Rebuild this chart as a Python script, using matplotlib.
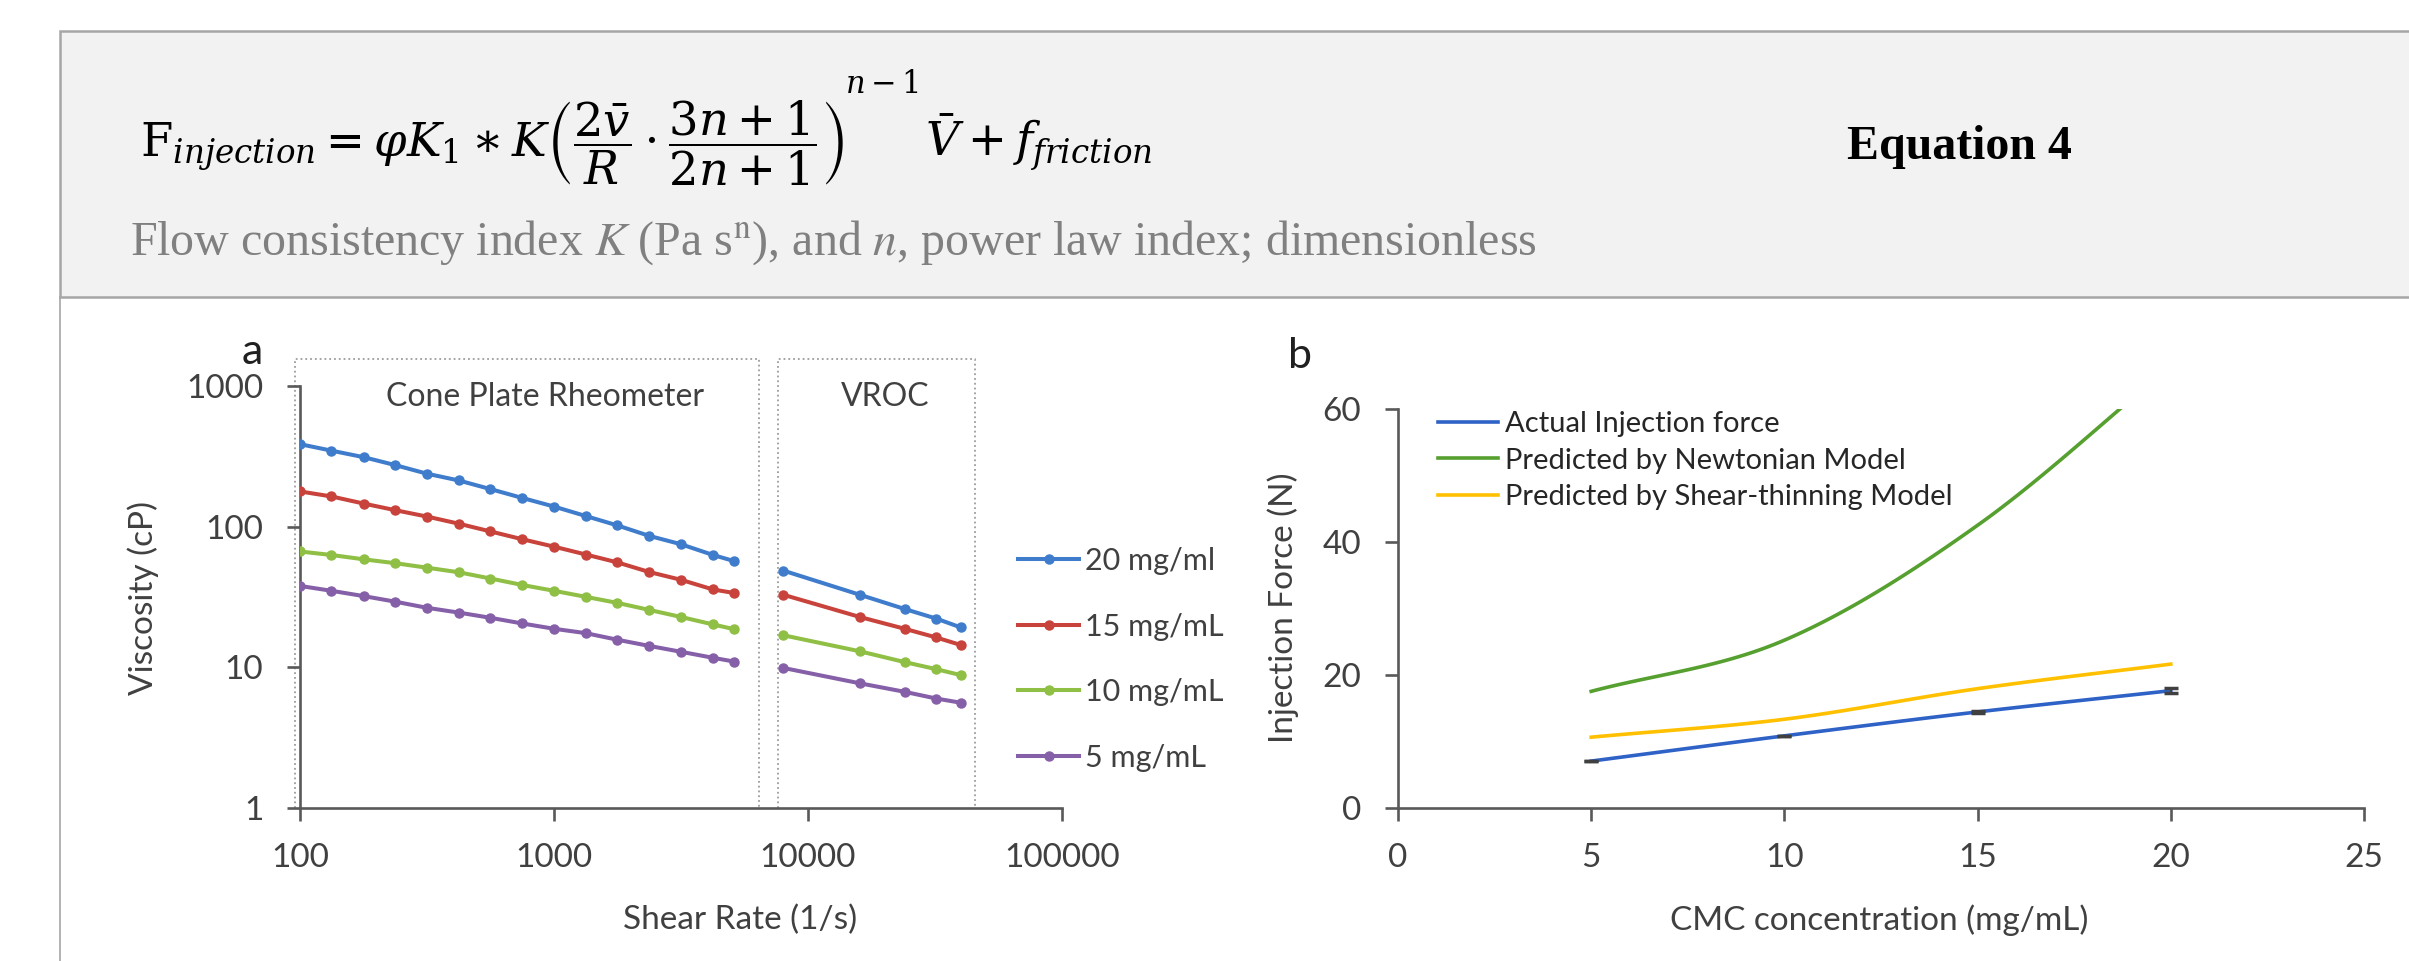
import numpy as np
import matplotlib
matplotlib.use("Agg")
import matplotlib.pyplot as plt
from matplotlib.patches import Rectangle
from matplotlib.lines import Line2D
from matplotlib.ticker import NullLocator

W, H = 2409, 961

# panel a: viscosity (cP) vs shear rate (1/s)
cone_rate = [100, 133, 178, 237, 316, 422, 562, 750, 1000, 1334, 1778, 2371, 3162, 4217, 5100]
vroc_rate = [8000, 16000, 24000, 32000, 40000]
visc_labels = ["20 mg/ml", "15 mg/mL", "10 mg/mL", "5 mg/mL"]
cone_visc = [
    [386, 347, 312, 274, 238, 213, 185, 160, 139, 119, 102, 86, 75, 63, 57],
    [178, 164, 146, 131, 118, 105, 92.5, 81.4, 72.1, 63.4, 55.7, 47.6, 41.9, 35.8, 33.8],
    [66.6, 62.9, 58.6, 55.0, 51.1, 47.4, 42.8, 38.5, 35.0, 31.7, 28.7, 25.6, 22.8, 20.2, 18.7],
    [37.9, 35.0, 32.1, 29.3, 26.5, 24.5, 22.5, 20.5, 18.8, 17.5, 15.7, 14.2, 12.9, 11.7, 11.0],
]
vroc_visc = [
    [48.7, 32.8, 26.0, 22.2, 19.2],
    [32.8, 22.8, 18.8, 16.3, 14.4],
    [16.9, 13.0, 10.9, 9.7, 8.8],
    [9.9, 7.7, 6.7, 6.0, 5.6],
]
visc_colors = ["#3f7ccc", "#c8433c", "#8fbf45", "#8560a8"]
cone_range = [95.6, 6400]
vroc_range = [7600, 45400]
box_top = 1560

# panel b: injection force (N) vs CMC concentration (mg/mL)
cmc = [5, 10, 15, 20]
force_labels = ["Actual Injection force", "Predicted by Newtonian Model",
                "Predicted by Shear-thinning Model"]
force_actual = [7.0, 10.8, 14.4, 17.6]
force_actual_err = [0.0, 0.0, 0.2, 0.4]
force_newton = [17.5, 25.2, 42.5, 66.5]
force_shear = [10.6, 13.3, 17.9, 21.6]
force_colors = ["#2f62c6", "#56a030", "#ffc000"]


def fx(px):
    return px / W


def fy(py):
    return 1 - py / H


def smooth(x, y, n=40):
    # catmull-rom style smoothing, like the "smoothed line" option of a spreadsheet
    x = np.asarray(x, float)
    y = np.asarray(y, float)
    m = np.zeros(len(x))
    m[0] = (y[1] - y[0]) / (x[1] - x[0])
    m[-1] = (y[-1] - y[-2]) / (x[-1] - x[-2])
    for i in range(1, len(x) - 1):
        m[i] = (y[i + 1] - y[i - 1]) / (x[i + 1] - x[i - 1])
    xs, ys = [], []
    for i in range(len(x) - 1):
        t = np.linspace(0, 1, n)
        h = x[i + 1] - x[i]
        h00 = 2 * t**3 - 3 * t**2 + 1
        h10 = t**3 - 2 * t**2 + t
        h01 = -2 * t**3 + 3 * t**2
        h11 = t**3 - t**2
        xs.append(x[i] + t * h)
        ys.append(h00 * y[i] + h10 * h * m[i] + h01 * y[i + 1] + h11 * h * m[i + 1])
    return np.concatenate(xs), np.concatenate(ys)


plt.rcParams["font.family"] = ["Lato", "DejaVu Sans"]
fig = plt.figure(figsize=(W / 100, H / 100), dpi=100)

# equation box
fig.add_artist(Rectangle((fx(60), fy(297)), fx(2450) - fx(60), (297 - 31) / H,
                         transform=fig.transFigure, facecolor="#f2f2f2",
                         edgecolor="#a6a6a6", lw=1.8))
fig.add_artist(Line2D([fx(60), fx(60)], [fy(297), 0], transform=fig.transFigure,
                      color="#a6a6a6", lw=1.2))

# equation in three pieces so the exponent sits high over the bracket
eq_main = (r"$\mathrm{F}_{injection} = \varphi K_1 \ast K\left(\dfrac{2\bar{v}}{R}\cdot"
           r"\dfrac{3n+1}{2n+1}\right)$")
fig.text(fx(140), fy(157), eq_main, fontsize=33.5, math_fontfamily="dejavuserif",
         ha="left", va="baseline", color="black")
fig.text(fx(845), fy(93), r"$n-1$", fontsize=22, math_fontfamily="dejavuserif",
         ha="left", va="baseline", color="black")
fig.text(fx(925), fy(157), r"$\bar{V} + f_{friction}$", fontsize=33.5,
         math_fontfamily="dejavuserif", ha="left", va="baseline", color="black")
fig.text(fx(1847), fy(159), "Equation 4", fontsize=34.5, fontweight="bold",
         family="Liberation Serif", ha="left", va="baseline", color="black")
fig.text(fx(130), fy(255),
         r"Flow consistency index $K$ (Pa s$^{\mathrm{n}}$), and $n$, power law index; dimensionless",
         fontsize=34.5, family="Liberation Serif", math_fontfamily="stix",
         color="#808080", ha="left", va="baseline")

axis_col = "#595959"
text_col = "#404040"

# ---- panel a ----
ax_a = fig.add_axes([fx(300), fy(808), (1062 - 300) / W, (808 - 386) / H])
ax_a.set_xscale("log")
ax_a.set_yscale("log")
ax_a.set_xlim(100, 100000)
ax_a.set_ylim(1, 1000)

for lo, hi in [cone_range, vroc_range]:
    ax_a.plot([lo, lo, hi, hi], [1, box_top, box_top, 1], ls=":", color="#9c9c9c",
              lw=1.3, clip_on=False, zorder=1)

handles = []
for lab, col, cv, vv in zip(visc_labels, visc_colors, cone_visc, vroc_visc):
    ax_a.plot(cone_rate, cv, "-o", color=col, lw=2.9, ms=6.5, zorder=3)
    ax_a.plot(vroc_rate, vv, "-o", color=col, lw=2.9, ms=6.5, zorder=3)
    handles.append(Line2D([], [], color=col, lw=2.9, marker="o", ms=6.5, label=lab))

ax_a.set_xticks([100, 1000, 10000, 100000])
ax_a.set_xticklabels(["100", "1000", "10000", "100000"])
ax_a.set_yticks([1, 10, 100, 1000])
ax_a.set_yticklabels(["1", "10", "100", "1000"])
ax_a.xaxis.set_minor_locator(NullLocator())
ax_a.yaxis.set_minor_locator(NullLocator())

ax_a.legend(handles=handles, loc="upper left", bbox_to_anchor=(fx(1018), fy(547)),
            bbox_transform=fig.transFigure, frameon=False, fontsize=22,
            handlelength=2.0, handletextpad=0.2, labelspacing=1.23, borderpad=0,
            borderaxespad=0, labelcolor=text_col)

fig.text(fx(545), fy(397), "Cone Plate Rheometer", fontsize=23, color=text_col,
         ha="center", va="center")
fig.text(fx(885), fy(397), "VROC", fontsize=23, color=text_col, ha="center", va="center")
fig.text(fx(252), fy(364), "a", fontsize=31, color="#202020", ha="center", va="baseline")
fig.text(fx(143), fy(598), "Viscosity (cP)", fontsize=24, color=text_col, rotation=90,
         ha="center", va="center")
fig.text(fx(740), fy(920), "Shear Rate (1/s)", fontsize=24, color=text_col,
         ha="center", va="center")

# ---- panel b ----
ax_b = fig.add_axes([fx(1398), fy(807.6), (2364 - 1398) / W, (807.6 - 409) / H])
ax_b.set_xlim(0, 25)
ax_b.set_ylim(0, 60)
ax_b.set_xticks([0, 5, 10, 15, 20, 25])
ax_b.set_yticks([0, 20, 40, 60])

series = [force_actual, force_newton, force_shear]
for lab, col, vals in zip(force_labels, force_colors, series):
    sx, sy = smooth(cmc, vals)
    ax_b.plot(sx, sy, color=col, lw=2.6, label=lab, zorder=3)
ax_b.errorbar(cmc, force_actual, yerr=force_actual_err, fmt="none", ecolor="#404040",
              elinewidth=1.2, capsize=5, capthick=2.5, zorder=4)

ax_b.legend(loc="upper left", bbox_to_anchor=(fx(1438), fy(411)),
            bbox_transform=fig.transFigure, frameon=False, fontsize=21,
            handlelength=2.06, handletextpad=0.24, labelspacing=0.36, borderpad=0,
            borderaxespad=0, labelcolor="#262626")

fig.text(fx(1300), fy(368), "b", fontsize=31, color="#202020", ha="center", va="baseline")
fig.text(fx(1283), fy(608), "Injection Force (N)", fontsize=24, color=text_col,
         rotation=90, ha="center", va="center")
fig.text(fx(1879), fy(920), "CMC concentration (mg/mL)", fontsize=24, color=text_col,
         ha="center", va="center")

for ax in (ax_a, ax_b):
    for side in ("top", "right"):
        ax.spines[side].set_visible(False)
    for side in ("left", "bottom"):
        ax.spines[side].set_color(axis_col)
        ax.spines[side].set_linewidth(1.9)
    ax.tick_params(direction="out", length=9.5, width=1.9, color=axis_col,
                   labelsize=24, labelcolor=text_col)
    ax.tick_params(axis="x", pad=16)
    ax.tick_params(axis="y", pad=17)
    ax.patch.set_alpha(0)

fig.savefig("out.png", dpi=100)
